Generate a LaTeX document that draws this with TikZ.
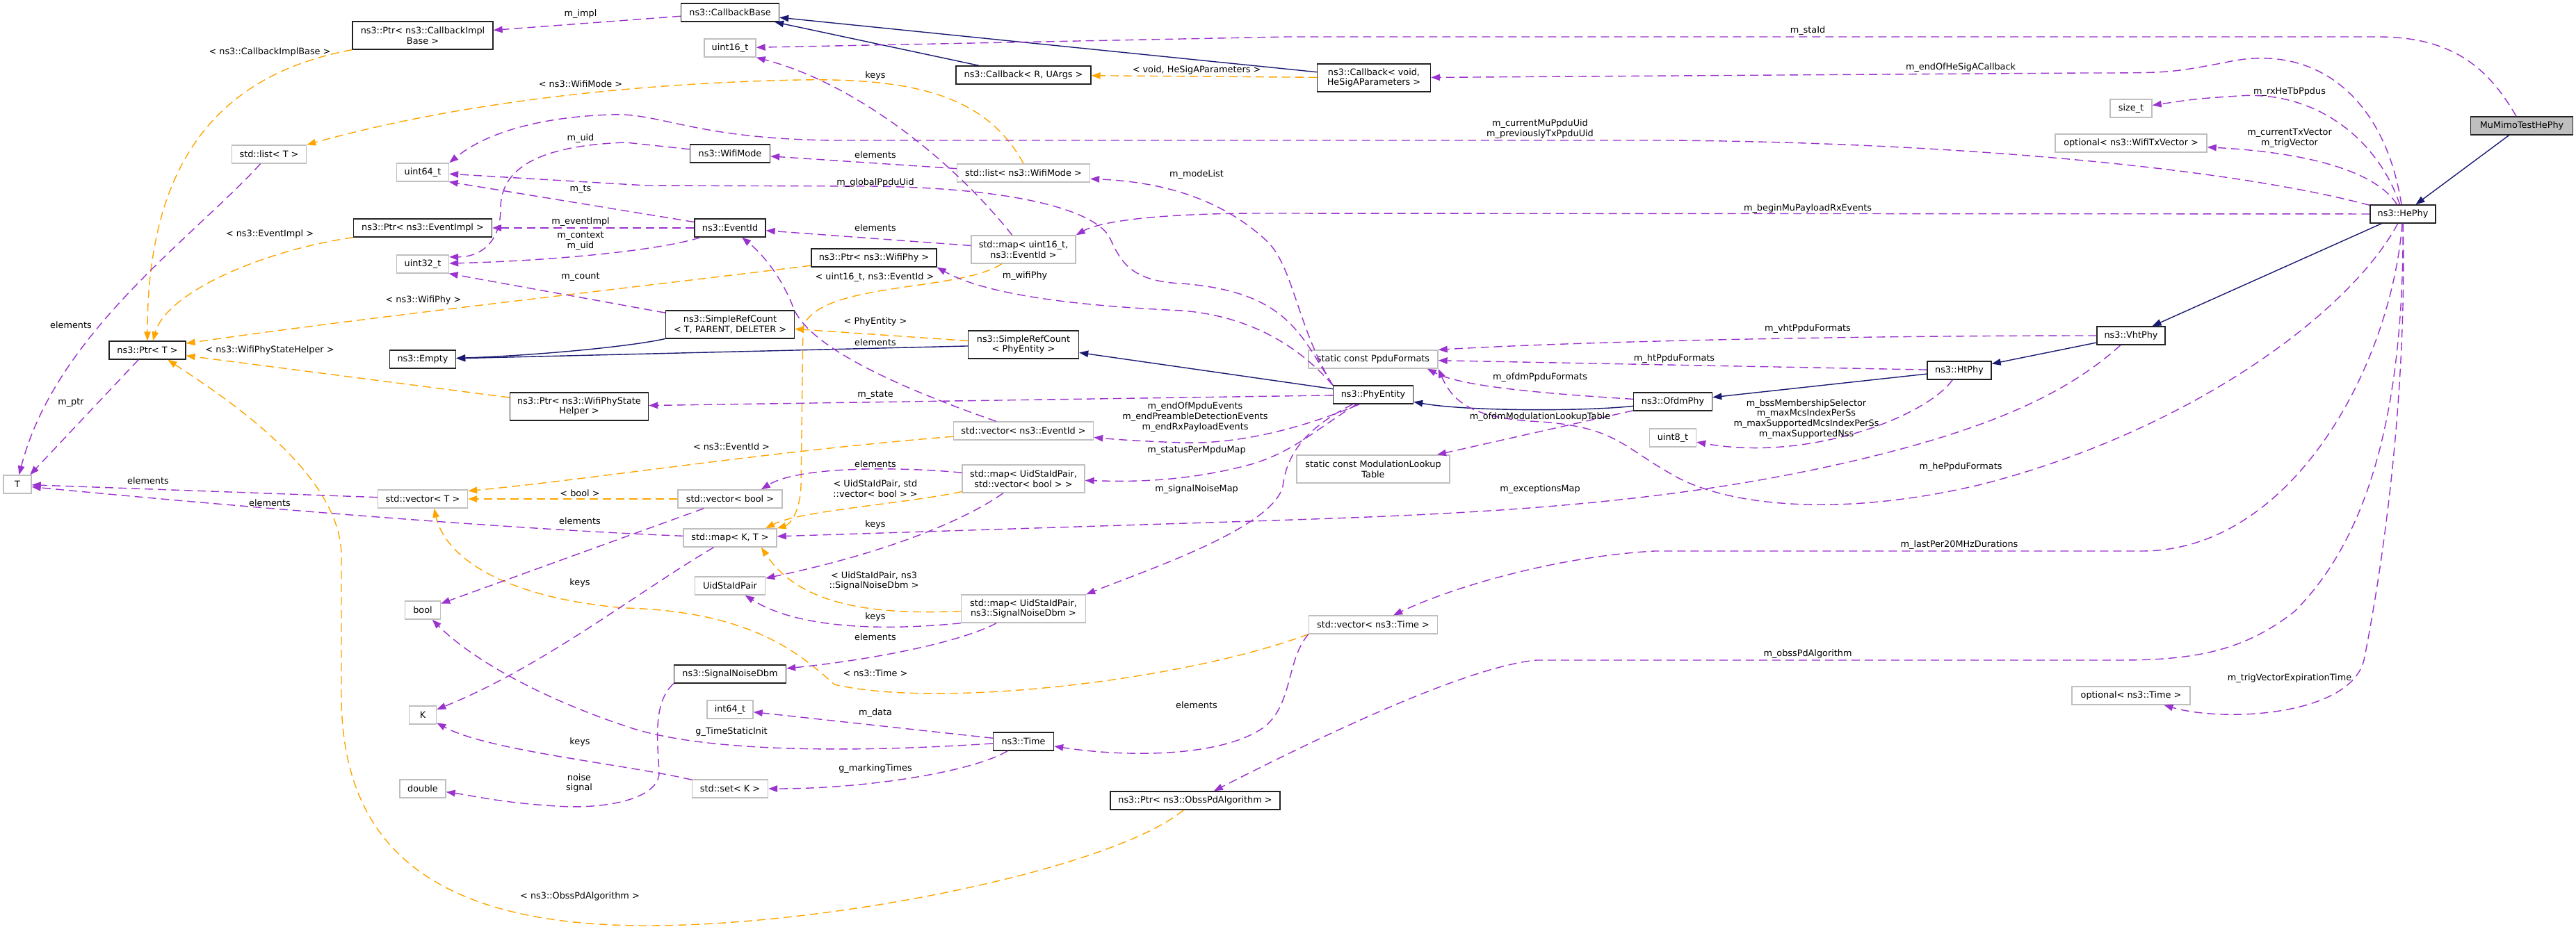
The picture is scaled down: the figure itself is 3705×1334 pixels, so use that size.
\documentclass[tikz,border=0pt]{standalone}
\usepackage{fontspec}
\setmainfont{DejaVu Sans}
\usetikzlibrary{arrows.meta}
\definecolor{inhblue}{HTML}{191970}
\definecolor{memorchid}{HTML}{9A32CD}
\definecolor{tplorange}{HTML}{FFA500}
\definecolor{extgrey}{HTML}{BFBFBF}
\definecolor{clsgrey}{HTML}{222222}
\newcommand{\dxfont}{\fontsize{7.3}{8.4}\selectfont}

\begin{document}
\begin{tikzpicture}[x=0.02cm,y=-0.02cm,every node/.style={font=\dxfont,align=center,inner sep=0pt},
  cls/.style={draw=clsgrey,fill=white,line width=0.8pt,minimum height=0.52cm},
  ext/.style={draw=extgrey,fill=white,line width=0.8pt,minimum height=0.52cm},
  two/.style={minimum height=0.8cm},
  inh/.style={color=inhblue,line width=0.8pt,-{Triangle[length=0.26cm,width=0.19cm]}},
  tpl/.style={color=tplorange,line width=0.8pt,dash pattern=on 0.24cm off 0.14cm,-{Triangle[length=0.26cm,width=0.19cm]}},
  mem/.style={color=memorchid,line width=0.8pt,dash pattern=on 0.24cm off 0.14cm,-{Triangle[length=0.26cm,width=0.19cm]}}]
\useasboundingbox (0,0) rectangle (3705,1334);
% classes
\node[cls,fill=extgrey,minimum width=2.94cm] (test) at (3627,181) {MuMimoTestHePhy};
\node[cls,minimum width=1.88cm] (hePhy) at (3456,308) {ns3::HePhy};
\node[cls,minimum width=1.96cm] (vhtPhy) at (3065,483) {ns3::VhtPhy};
\node[cls,minimum width=1.84cm] (htPhy) at (2818,533) {ns3::HtPhy};
\node[cls,minimum width=2.26cm] (ofdmPhy) at (2406,578) {ns3::OfdmPhy};
\node[cls,minimum width=2.3cm] (phyEntity) at (1975,568) {ns3::PhyEntity};
\node[cls,two,minimum width=3.18cm] (srcPhy) at (1472,496) {ns3::SimpleRefCount\\< PhyEntity >};
\node[cls,two,minimum width=3.7cm] (srcT) at (1050,467) {ns3::SimpleRefCount\\< T, PARENT, DELETER >};
\node[cls,minimum width=1.9cm] (empty) at (608,517) {ns3::Empty};
\node[cls,two,minimum width=4.04cm] (cbImpl) at (608,51) {ns3::Ptr< ns3::CallbackImpl\\Base >};
\node[cls,minimum width=2.82cm] (cbBase) at (1050,18) {ns3::CallbackBase};
\node[cls,minimum width=3.88cm] (cbRU) at (1472,108) {ns3::Callback< R, UArgs >};
\node[cls,two,minimum width=3.26cm] (cbVoid) at (1976,112) {ns3::Callback< void,\\HeSigAParameters >};
\node[cls,minimum width=2.3cm] (wifiMode) at (1050,221) {ns3::WifiMode};
\node[cls,minimum width=3.98cm] (evImpl) at (608,328) {ns3::Ptr< ns3::EventImpl >};
\node[cls,minimum width=2.04cm] (eventId) at (1050,328) {ns3::EventId};
\node[cls,minimum width=3.6cm] (wifiPhy) at (1257,371) {ns3::Ptr< ns3::WifiPhy >};
\node[cls,minimum width=2.2cm] (ptrT) at (212,504) {ns3::Ptr< T >};
\node[cls,two,minimum width=3.98cm] (stateHelper) at (833,585) {ns3::Ptr< ns3::WifiPhyState\\Helper >};
\node[cls,minimum width=3.22cm] (snr) at (1050,970) {ns3::SignalNoiseDbm};
\node[cls,minimum width=1.74cm] (time) at (1472,1067) {ns3::Time};
\node[cls,minimum width=4.88cm] (obss) at (1719,1152) {ns3::Ptr< ns3::ObssPdAlgorithm >};
% plain types
\node[ext,minimum width=1.48cm] (uint16) at (1050,69) {uint16\_t};
\node[ext,minimum width=2.14cm] (listT) at (387,222) {std::list< T >};
\node[ext,minimum width=1.5cm] (uint64) at (608,248) {uint64\_t};
\node[ext,minimum width=1.5cm] (uint32) at (608,380) {uint32\_t};
\node[ext,minimum width=1.2cm] (sizeT) at (3065,156) {size\_t};
\node[ext,minimum width=4.36cm] (optTx) at (3065,206) {optional< ns3::WifiTxVector >};
\node[ext,minimum width=3.82cm] (listMode) at (1472,249) {std::list< ns3::WifiMode >};
\node[ext,two,minimum width=3cm] (mapU16) at (1472,359) {std::map< uint16\_t,\\ns3::EventId >};
\node[ext,minimum width=0.8cm] (T) at (25,697) {T};
\node[ext,minimum width=2.58cm] (vecT) at (608,718) {std::vector< T >};
\node[ext,minimum width=1.02cm] (boolN) at (608,878) {bool};
\node[ext,minimum width=4.02cm] (vecEv) at (1472,620) {std::vector< ns3::EventId >};
\node[ext,minimum width=3cm] (vecBool) at (1050,718) {std::vector< bool >};
\node[ext,two,minimum width=3.52cm] (mapVB) at (1472,689) {std::map< UidStaIdPair,\\std::vector< bool > >};
\node[ext,minimum width=2.68cm] (mapKT) at (1050,774) {std::map< K, T >};
\node[ext,minimum width=2.02cm] (uidPair) at (1050,843) {UidStaIdPair};
\node[ext,two,minimum width=3.58cm] (mapSNR) at (1472,876) {std::map< UidStaIdPair,\\ns3::SignalNoiseDbm >};
\node[ext,minimum width=3.72cm] (ppdu) at (1975,517) {static const PpduFormats};
\node[ext,two,minimum width=4.4cm] (mlt) at (1975,675) {static const ModulationLookup\\Table};
\node[ext,minimum width=1.34cm] (uint8) at (2406,630) {uint8\_t};
\node[ext,minimum width=0.78cm] (K) at (608,1029) {K};
\node[ext,minimum width=1.32cm] (double) at (608,1135) {double};
\node[ext,minimum width=1.32cm] (int64) at (1050,1021) {int64\_t};
\node[ext,minimum width=2.18cm] (setK) at (1050,1135) {std::set< K >};
\node[ext,minimum width=3.7cm] (vecTime) at (1975,899) {std::vector< ns3::Time >};
\node[ext,minimum width=3.4cm] (optTime) at (3065,1001) {optional< ns3::Time >};
% inheritance
\draw[inh] (test) -- (hePhy); \draw[inh] (hePhy) -- (vhtPhy); \draw[inh] (vhtPhy) -- (htPhy); \draw[inh] (htPhy) -- (ofdmPhy);
\draw[inh] (ofdmPhy) .. controls (2280,592) and (2110,592) .. (phyEntity);
\draw[inh] (phyEntity) -- (srcPhy); \draw[inh] (srcPhy) -- (empty);
\draw[inh] (srcT) .. controls (900,500) and (760,512) .. (empty);
\draw[inh] (cbVoid) -- (cbBase); \draw[inh] (cbRU) -- (cbBase);
% template instances
\draw[tpl] (cbImpl.south west) .. controls (300,110) and (212,250) .. (ptrT.north);
\draw[tpl] (listMode.north) .. controls (1420,140) and (1320,112) .. (1150,115) .. controls (900,120) and (650,150) .. (listT.north east);
\draw[tpl] (evImpl.south west) .. controls (380,360) and (240,420) .. (ptrT.60);
\draw[tpl] (wifiPhy) .. controls (900,415) and (500,460) .. (ptrT.10);
\draw[tpl] (stateHelper) -- (ptrT.-8);
\draw[tpl] (obss) .. controls (1600,1250) and (1200,1332) .. (930,1332) .. controls (600,1332) and (491,1200) .. (491,1000) -- (491,800) .. controls (491,680) and (320,570) .. (ptrT.-25);
\draw[tpl] (cbVoid) -- (cbRU); \draw[tpl] (srcPhy) -- (srcT); \draw[tpl] (vecBool) -- (vecT);
\draw[tpl] (vecEv) .. controls (1100,650) and (850,690) .. (vecT.10);
\draw[tpl] (vecTime.south west) .. controls (1700,980) and (1350,1020) .. (1200,985) .. controls (1150,940) and (1080,880) .. (900,875) .. controls (720,860) and (640,800) .. (vecT.-40);
\draw[tpl] (mapU16) .. controls (1380,420) and (1180,405) .. (1155,470) -- (1152,700) .. controls (1150,740) and (1135,755) .. (mapKT.north east);
\draw[tpl] (mapVB) .. controls (1300,725) and (1150,735) .. (mapKT.15);
\draw[tpl] (mapSNR) .. controls (1250,885) and (1150,870) .. (mapKT.-17);
% members
\draw[mem] (cbBase) -- (cbImpl);
\draw[mem] (test) .. controls (3580,100) and (3530,53) .. (3420,53) -- (1850,53) -- (uint16);
\draw[mem] (mapU16) .. controls (1370,230) and (1230,120) .. (uint16.south east);
\draw[mem] (hePhy) .. controls (3430,140) and (3330,60) .. (3200,90) .. controls (3120,105) .. (3000,105) -- (cbVoid);
\draw[mem] (hePhy) .. controls (3420,200) and (3330,130) .. (3220,138) .. controls (3160,142) .. (sizeT);
\draw[mem] (hePhy) .. controls (3420,250) and (3330,220) .. (optTx);
\draw[mem] (hePhy) .. controls (3200,240) and (2800,205) .. (2400,202) -- (1200,202) .. controls (1000,200) and (950,162) .. (880,165) .. controls (780,168) and (700,190) .. (uint64.north east);
\draw[mem] (hePhy) -- (1800,307) .. controls (1650,308) and (1580,320) .. (mapU16.north east);
\draw[mem] (eventId) -- (uint64.-20);
\draw[mem] (phyEntity.north west) .. controls (1870,480) and (1850,420) .. (1700,408) .. controls (1620,405) and (1610,370) .. (1595,340) .. controls (1570,300) and (1450,270) .. (1250,268) -- (930,267) -- (uint64);
\draw[mem] (wifiMode) -- (900,205) .. controls (760,210) and (720,250) .. (720,300) .. controls (720,350) and (690,370) .. (uint32.15);
\draw[mem] (eventId) -- (evImpl);
\draw[mem] (eventId) .. controls (950,360) and (800,375) .. (uint32);
\draw[mem] (srcT) -- (uint32.-20);
\draw[mem] (listMode) -- (wifiMode);
\draw[mem] (phyEntity.north west) .. controls (1865,470) and (1860,380) .. (1820,345) .. controls (1760,290) and (1680,262) .. (listMode.-5);
\draw[mem] (mapU16) -- (eventId);
\draw[mem] (vecEv) .. controls (1300,560) and (1160,500) .. (1140,440) .. controls (1120,390) and (1090,360) .. (eventId);
\draw[mem] (phyEntity.north west) .. controls (1870,500) and (1800,455) .. (1700,447) .. controls (1550,440) and (1420,425) .. (wifiPhy.south east);
\draw[mem] (phyEntity) -- (stateHelper);
\draw[mem] (phyEntity.-145) .. controls (1900,605) and (1800,640) .. (1700,637) .. controls (1640,635) and (1600,632) .. (vecEv);
\draw[mem] (phyEntity.-150) .. controls (1890,620) and (1860,650) .. (1800,668) .. controls (1700,695) and (1620,693) .. (mapVB);
\draw[mem] (phyEntity.-155) .. controls (1870,620) and (1850,660) .. (1845,700) .. controls (1830,760) and (1650,820) .. (mapSNR.north east);
\draw[mem] (mapVB) .. controls (1300,672) and (1150,670) .. (vecBool.17);
\draw[mem] (mapVB) .. controls (1400,740) and (1300,790) .. (uidPair);
\draw[mem] (vhtPhy) .. controls (2980,560) and (2880,610) .. (2700,655) .. controls (2400,730) and (2100,740) .. (1800,750) -- (mapKT);
\draw[mem] (mapSNR.south west) .. controls (1250,910) and (1140,900) .. (uidPair);
\draw[mem] (mapSNR) .. controls (1380,925) and (1250,950) .. (snr);
\draw[mem] (snr.south west) .. controls (940,1010) and (945,1060) .. (948,1110) .. controls (950,1150) and (870,1165) .. (800,1160) .. controls (720,1155) and (680,1145) .. (double);
\draw[mem] (listT) .. controls (280,340) and (80,480) .. (T.80);
\draw[mem] (ptrT) -- (T.37); \draw[mem] (vecT) -- (T); \draw[mem] (vecBool) -- (boolN); \draw[mem] (time) -- (int64);
\draw[mem] (mapKT) .. controls (700,760) and (300,725) .. (T.-10);
\draw[mem] (mapKT) .. controls (920,850) and (780,960) .. (K);
\draw[mem] (time) .. controls (1200,1085) and (1000,1080) .. (900,1045) .. controls (780,1005) and (680,950) .. (boolN);
\draw[mem] (setK) .. controls (900,1100) and (700,1080) .. (K);
\draw[mem] (time) .. controls (1400,1110) and (1250,1135) .. (setK);
\draw[mem] (vecTime.south west) .. controls (1850,950) and (1860,1010) .. (1820,1045) .. controls (1760,1090) and (1620,1090) .. (time);
\draw[mem] (hePhy) .. controls (3440,520) and (3300,793) .. (3080,793) -- (2380,793) .. controls (2250,800) and (2100,840) .. (vecTime);
\draw[mem] (hePhy) .. controls (3458,650) and (3380,800) .. (3300,880) .. controls (3230,935) and (3160,950) .. (3050,950) -- (2210,950) .. controls (2100,960) and (1860,1080) .. (obss);
\draw[mem] (hePhy) .. controls (3462,600) and (3420,850) .. (3400,950) .. controls (3380,1030) and (3200,1040) .. (optTime);
\draw[mem] (hePhy) .. controls (3380,450) and (3150,620) .. (2850,697) .. controls (2650,745) and (2480,730) .. (2400,680) .. controls (2330,640) and (2320,612) .. (2200,606) .. controls (2120,600) and (2090,580) .. (ppdu.south east);
\draw[mem] (vhtPhy) .. controls (2700,483) and (2300,490) .. (ppdu.north east);
\draw[mem] (htPhy) -- (ppdu);
\draw[mem] (ofdmPhy) .. controls (2200,565) and (2100,555) .. (ppdu.-10);
\draw[mem] (ofdmPhy) -- (mlt);
\draw[mem] (htPhy) .. controls (2770,600) and (2600,665) .. (uint8);
% edge labels
\node (lImpl) at (835,20) {m\_impl};
\node (lCbImplBase) at (388,75) {< ns3::CallbackImplBase >};
\node (lWifiMode) at (835,121) {< ns3::WifiMode >};
\node (lUid) at (835,199) {m\_uid};
\node (lTs) at (835,273) {m\_ts};
\node (lEvImpl) at (835,319) {m\_eventImpl};
\node (lCtx) at (835,347) {m\_context\\m\_uid};
\node (lCount) at (835,399) {m\_count};
\node (lEvImplT) at (388,337) {< ns3::EventImpl >};
\node (lWifiPhyT) at (609,432) {< ns3::WifiPhy >};
\node (lKeysU16) at (1259,109) {keys};
\node (lVoidT) at (1721,101) {< void, HeSigAParameters >};
\node (lElemMode) at (1259,223) {elements};
\node (lGlobal) at (1259,263) {m\_globalPpduUid};
\node (lModeList) at (1721,251) {m\_modeList};
\node (lElemMap) at (1259,328) {elements};
\node (lU16T) at (1258,399) {< uint16\_t, ns3::EventId >};
\node (lWifiPhy) at (1474,397) {m\_wifiPhy};
\node (lStaId) at (2600,44) {m\_staId};
\node (lMuUid) at (2215,186) {m\_currentMuPpduUid\\m\_previouslyTxPpduUid};
\node (lBeginMu) at (2600,300) {m\_beginMuPayloadRxEvents};
\node (lSigA) at (2820,97) {m\_endOfHeSigACallback};
\node (lRxTb) at (3293,132) {m\_rxHeTbPpdus};
\node (lTxVec) at (3293,199) {m\_currentTxVector\\m\_trigVector};
\node (lElemT1) at (102,468) {elements};
\node (lPtr) at (102,580) {m\_ptr};
\node (lStateT) at (388,504) {< ns3::WifiPhyStateHelper >};
\node (lElemVecT) at (213,692) {elements};
\node (lElemMapT) at (388,724) {elements};
\node (lBoolT) at (834,710) {< bool >};
\node (lElemBool) at (834,750) {elements};
\node (lKeysK) at (834,839) {keys};
\node (lPhyEntT) at (1259,463) {< PhyEntity >};
\node (lElemEv) at (1259,493) {elements};
\node (lState) at (1259,569) {m\_state};
\node (lEvents) at (1719,600) {m\_endOfMpduEvents\\m\_endPreambleDetectionEvents\\m\_endRxPayloadEvents};
\node (lStatus) at (1721,648) {m\_statusPerMpduMap};
\node (lEventIdT) at (1052,643) {< ns3::EventId >};
\node (lElemVB) at (1259,668) {elements};
\node (lVBT) at (1259,703) {< UidStaIdPair, std\\::vector< bool > >};
\node (lSnrMap) at (1721,704) {m\_signalNoiseMap};
\node (lKeysVB) at (1259,755) {keys};
\node (lSnrT) at (1257,836) {< UidStaIdPair, ns3\\::SignalNoiseDbm >};
\node (lKeysSnr) at (1259,888) {keys};
\node (lVht) at (2600,473) {m\_vhtPpduFormats};
\node (lHt) at (2408,516) {m\_htPpduFormats};
\node (lOfdm) at (2215,543) {m\_ofdmPpduFormats};
\node (lMlt) at (2215,600) {m\_ofdmModulationLookupTable};
\node (lBss) at (2598,603) {m\_bssMembershipSelector\\m\_maxMcsIndexPerSs\\m\_maxSupportedMcsIndexPerSs\\m\_maxSupportedNss};
\node (lExc) at (2215,704) {m\_exceptionsMap};
\node (lHe) at (2820,672) {m\_hePpduFormats};
\node (lLast) at (2818,784) {m\_lastPer20MHzDurations};
\node (lKeysSet) at (834,1068) {keys};
\node (lNoise) at (833,1127) {noise\\signal};
\node (lObssT) at (834,1290) {< ns3::ObssPdAlgorithm >};
\node (lElemSnr) at (1259,917) {elements};
\node (lTimeT) at (1259,969) {< ns3::Time >};
\node (lData) at (1259,1026) {m\_data};
\node (lInit) at (1052,1053) {g\_TimeStaticInit};
\node (lMarking) at (1259,1106) {g\_markingTimes};
\node (lElemTime) at (1721,1015) {elements};
\node (lObss) at (2600,941) {m\_obssPdAlgorithm};
\node (lTrig) at (3293,976) {m\_trigVectorExpirationTime};
\end{tikzpicture}
\end{document}
